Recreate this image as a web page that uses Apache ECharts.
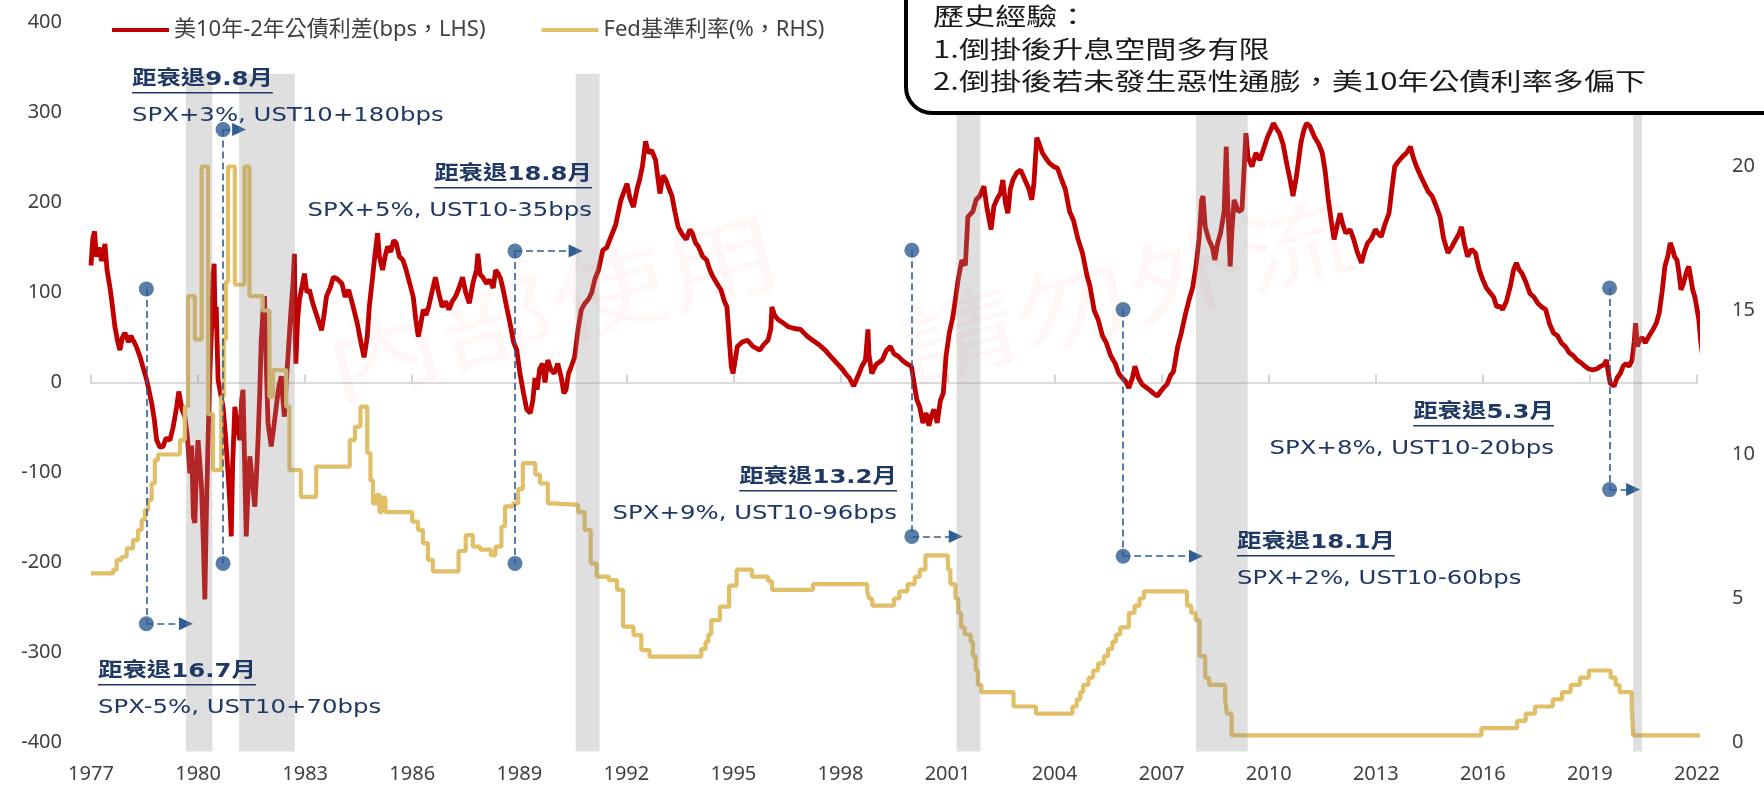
<!DOCTYPE html>
<html lang="zh-Hant">
<head>
<meta charset="utf-8">
<title>美10年-2年公債利差 vs Fed基準利率</title>
<script src="https://cdn.jsdelivr.net/npm/echarts@6.0.0/dist/echarts.min.js"></script>
<style>
    html, body { margin: 0; padding: 0; background: #fff; }
    #chart { width: 1764px; height: 786px; }
</style>
</head>
<body>
<div id="chart"></div>
<script>
    // 美10年-2年公債利差 (bps), [年, 值]
    var spread = [
        [1977.00,130],[1977.05,160],[1977.10,168],[1977.15,140],[1977.22,150],[1977.30,135],[1977.39,154],[1977.45,125],
        [1977.53,106],[1977.60,85],[1977.67,62],[1977.75,45],[1977.81,36],[1977.88,50],[1977.95,55],
        [1978.05,45],[1978.12,52],[1978.18,47],[1978.27,40],[1978.37,29],[1978.45,18],[1978.56,3],[1978.63,-10],
        [1978.70,-23],[1978.77,-40],[1978.84,-64],[1978.93,-72],
        [1979.02,-71],[1979.10,-62],[1979.21,-64],[1979.30,-50],[1979.40,-27],[1979.46,-10],[1979.49,-8],[1979.55,-30],
        [1979.63,-38],[1979.70,-60],[1979.77,-101],[1979.82,-70],[1979.87,-150],[1979.91,-156],[1979.95,-100],
        [1980.00,-64],[1980.05,-90],[1980.10,-119],[1980.15,-180],[1980.19,-241],[1980.23,-150],[1980.28,-64],[1980.33,10],
        [1980.38,60],[1980.42,121],[1980.45,132],[1980.48,60],[1980.51,84],[1980.56,3],[1980.62,-10],[1980.70,-27],
        [1980.77,-60],[1980.84,-101],[1980.90,-140],[1980.93,-171],[1980.97,-90],
        [1981.03,-27],[1981.10,-50],[1981.17,-64],[1981.22,-20],[1981.26,-8],[1981.31,-100],[1981.35,-171],[1981.40,-120],
        [1981.45,-82],[1981.52,-110],[1981.59,-138],[1981.64,-100],[1981.68,-64],[1981.73,-10],[1981.77,47],[1981.82,80],
        [1981.86,96],[1981.91,20],[1981.96,-45],
        [1982.01,-60],[1982.05,-71],[1982.12,-50],[1982.19,-27],[1982.26,-5],[1982.33,7],[1982.38,-20],[1982.42,-38],
        [1982.47,0],[1982.52,29],[1982.57,60],[1982.61,84],[1982.66,110],[1982.70,143],[1982.72,60],[1982.74,21],
        [1982.79,70],[1982.84,92],[1982.93,110],[1982.98,121],
        [1983.05,100],[1983.12,103],[1983.20,90],[1983.27,81],[1983.36,70],[1983.46,58],[1983.53,75],[1983.60,96],
        [1983.70,105],[1983.79,117],[1983.90,115],
        [1984.03,110],[1984.12,95],[1984.22,103],[1984.34,85],[1984.46,66],[1984.56,45],[1984.65,28],[1984.70,40],
        [1984.74,51],[1984.80,85],[1984.89,117],[1984.95,140],
        [1985.03,166],[1985.08,140],[1985.17,125],[1985.24,140],[1985.31,151],[1985.40,145],[1985.48,158],[1985.55,155],
        [1985.64,140],[1985.74,136],[1985.83,125],[1985.93,110],
        [1986.03,95],[1986.10,70],[1986.17,51],[1986.24,65],[1986.31,81],[1986.39,75],[1986.46,84],[1986.55,100],
        [1986.65,117],[1986.74,100],[1986.84,84],[1986.94,90],
        [1987.03,81],[1987.12,90],[1987.22,96],[1987.31,105],[1987.41,117],[1987.50,100],[1987.60,88],[1987.70,110],
        [1987.80,125],[1987.84,143],[1987.90,120],[1987.98,117],
        [1988.08,110],[1988.17,114],[1988.27,105],[1988.34,125],[1988.41,121],[1988.48,115],[1988.55,103],[1988.64,85],
        [1988.74,66],[1988.84,45],[1988.93,36],
        [1989.02,10],[1989.12,-12],[1989.21,-30],[1989.31,-34],[1989.38,-20],[1989.44,5],[1989.50,-8],[1989.57,15],
        [1989.65,21],[1989.72,0],[1989.80,25],[1989.89,14],[1989.98,10],
        [1990.08,21],[1990.18,5],[1990.25,-12],[1990.31,-8],[1990.38,10],[1990.46,18],[1990.55,28],[1990.65,60],
        [1990.74,81],[1990.84,88],[1990.93,92],
        [1991.03,100],[1991.12,115],[1991.22,125],[1991.34,147],[1991.45,150],[1991.57,162],[1991.70,175],[1991.85,203],
        [1992.02,221],[1992.10,205],[1992.20,195],[1992.30,215],[1992.37,225],[1992.45,240],[1992.54,268],[1992.62,255],
        [1992.71,258],[1992.82,247],[1992.94,210],
        [1993.03,230],[1993.11,225],[1993.20,215],[1993.28,207],[1993.36,190],[1993.45,173],[1993.56,165],[1993.68,159],
        [1993.78,170],[1993.85,166],[1993.94,155],
        [1994.02,151],[1994.14,140],[1994.25,136],[1994.34,125],[1994.42,118],[1994.54,110],[1994.65,103],[1994.75,90],
        [1994.82,84],[1994.88,50],[1994.94,18],[1994.99,10],
        [1995.05,25],[1995.11,40],[1995.25,45],[1995.39,47],[1995.55,40],[1995.74,36],[1995.85,42],[1995.97,47],
        [1996.05,60],[1996.08,84],[1996.15,75],[1996.25,70],[1996.40,66],[1996.54,62],[1996.70,60],[1996.88,59],
        [1997.05,52],[1997.22,47],[1997.40,42],[1997.57,36],[1997.75,28],[1997.91,21],
        [1998.05,15],[1998.14,10],[1998.25,5],[1998.37,-4],[1998.50,8],[1998.60,18],[1998.70,25],[1998.77,59],
        [1998.80,30],[1998.88,10],
        [1999.00,20],[1999.17,25],[1999.28,35],[1999.40,40],[1999.50,32],[1999.62,29],[1999.75,24],[1999.85,21],[1999.99,18],
        [2000.08,-5],[2000.14,-19],[2000.22,-27],[2000.31,-45],[2000.40,-34],[2000.48,-48],[2000.54,-38],[2000.62,-30],
        [2000.71,-45],[2000.80,-20],[2000.88,-12],[2000.96,30],
        [2001.05,55],[2001.15,73],[2001.22,92],[2001.30,115],[2001.40,136],[2001.50,130],[2001.57,184],[2001.71,190],
        [2001.80,203],[2001.90,207],
        [2002.02,218],[2002.10,195],[2002.22,170],[2002.30,196],[2002.40,205],[2002.48,210],[2002.55,225],[2002.62,200],
        [2002.69,188],[2002.76,215],[2002.83,225],[2002.94,233],
        [2003.05,236],[2003.17,225],[2003.28,215],[2003.36,203],[2003.42,221],[2003.50,272],[2003.57,265],[2003.66,255],
        [2003.74,250],[2003.85,244],[2003.97,240],
        [2004.08,238],[2004.20,225],[2004.30,215],[2004.42,190],[2004.53,180],[2004.65,160],[2004.78,144],[2004.90,120],
        [2004.99,107],
        [2005.11,80],[2005.22,70],[2005.34,52],[2005.45,44],[2005.57,30],[2005.70,21],[2005.80,10],[2005.90,5],[2005.98,2],
        [2006.08,-6],[2006.18,5],[2006.25,18],[2006.35,5],[2006.45,-2],[2006.55,-5],[2006.65,-8],[2006.77,-12],
        [2006.88,-15],[2006.97,-10],
        [2007.05,-6],[2007.15,-2],[2007.25,8],[2007.33,12],[2007.45,40],[2007.55,55],[2007.66,75],[2007.77,92],
        [2007.87,106],[2007.96,129],
        [2008.05,160],[2008.12,203],[2008.16,207],[2008.22,173],[2008.32,159],[2008.42,150],[2008.49,136],[2008.57,155],
        [2008.65,166],[2008.75,190],[2008.81,262],[2008.85,200],[2008.92,129],[2008.97,170],
        [2009.03,203],[2009.15,190],[2009.25,192],[2009.30,230],[2009.36,277],[2009.42,250],[2009.53,240],[2009.64,255],
        [2009.75,247],[2009.86,260],[2009.97,273],
        [2010.05,280],[2010.13,288],[2010.22,282],[2010.30,277],[2010.40,265],[2010.52,240],[2010.60,225],[2010.68,207],
        [2010.78,230],[2010.90,266],[2010.98,280],
        [2011.06,288],[2011.15,285],[2011.28,273],[2011.40,265],[2011.50,255],[2011.58,235],[2011.67,203],[2011.75,180],
        [2011.83,159],[2011.92,175],
        [2012.00,188],[2012.08,175],[2012.16,166],[2012.28,170],[2012.38,159],[2012.48,145],[2012.60,133],[2012.68,145],
        [2012.77,155],[2012.88,160],[2012.99,170],
        [2013.08,165],[2013.15,162],[2013.25,175],[2013.37,188],[2013.45,215],[2013.53,240],[2013.62,245],[2013.75,251],
        [2013.86,255],[2013.97,262],
        [2014.05,250],[2014.14,240],[2014.25,230],[2014.36,221],[2014.47,212],[2014.58,207],[2014.70,195],[2014.80,184],
        [2014.90,160],
        [2015.02,144],[2015.12,150],[2015.24,159],[2015.33,165],[2015.40,173],[2015.48,155],[2015.57,140],[2015.68,148],
        [2015.79,144],[2015.90,125],
        [2016.00,114],[2016.10,105],[2016.22,99],[2016.30,95],[2016.39,84],[2016.48,85],[2016.55,81],[2016.66,90],
        [2016.77,107],[2016.86,125],[2016.94,133],
        [2017.02,125],[2017.10,121],[2017.20,112],[2017.32,99],[2017.43,95],[2017.54,88],[2017.65,84],[2017.76,81],
        [2017.87,65],[2017.98,55],
        [2018.09,52],[2018.20,44],[2018.31,40],[2018.42,33],[2018.53,30],[2018.64,25],[2018.75,22],[2018.86,18],[2018.97,15],
        [2019.08,14],[2019.19,15],[2019.30,18],[2019.40,20],[2019.46,25],[2019.52,10],[2019.57,-1],[2019.62,0],
        [2019.68,-4],[2019.76,5],[2019.85,10],[2019.93,18],
        [2020.01,21],[2020.10,18],[2020.18,25],[2020.24,45],[2020.28,66],[2020.33,40],[2020.39,47],[2020.47,50],
        [2020.55,44],[2020.66,52],[2020.77,59],[2020.86,66],[2020.94,77],
        [2021.02,100],[2021.10,129],[2021.18,140],[2021.25,155],[2021.30,150],[2021.37,140],[2021.44,136],[2021.50,120],
        [2021.55,103],[2021.62,110],[2021.70,122],[2021.77,129],[2021.83,115],[2021.88,103],[2021.94,95],[2021.99,84],
        [2022.05,70],[2022.10,47],[2022.14,35],[2022.17,25],[2022.21,12],[2022.24,-1]
    ];

    // Fed基準利率 (%), 每次調整的 [年, 利率]
    var fedRate = [
        [1977.00,5.87],[1977.62,6.0],[1977.72,6.34],[1977.86,6.45],[1978.00,6.74],[1978.18,7.03],[1978.32,7.38],
        [1978.42,7.73],[1978.51,8.07],[1978.60,8.42],[1978.70,9.0],[1978.79,9.81],[1978.88,10.0],[1979.49,10.5],
        [1979.63,11.66],[1979.72,15.5],[1979.91,14.0],[1980.10,20.0],[1980.28,11.4],[1980.42,9.46],[1980.65,12.0],
        [1980.72,14.0],[1980.78,16.0],[1980.84,20.0],[1981.03,15.9],[1981.30,20.0],[1981.44,15.5],[1981.81,15.0],
        [1982.00,12.0],[1982.10,12.93],[1982.47,11.66],[1982.56,9.46],[1982.88,8.53],[1983.31,9.58],[1984.25,10.5],
        [1984.40,10.97],[1984.55,11.66],[1984.74,10.05],[1984.83,9.1],[1984.90,8.3],[1985.00,8.6],[1985.08,8.0],
        [1985.15,8.5],[1985.25,8.0],[1986.00,7.67],[1986.16,7.38],[1986.30,6.92],[1986.44,6.34],[1986.58,5.94],
        [1987.30,6.65],[1987.50,7.2],[1987.70,6.8],[1987.90,6.7],[1988.20,6.5],[1988.33,6.8],[1988.50,7.5],
        [1988.60,8.2],[1988.83,8.3],[1988.97,8.8],[1989.10,9.7],[1989.45,9.3],[1989.58,9.0],[1989.80,8.3],
        [1989.94,8.25],[1990.65,8.0],[1990.83,7.38],[1991.00,6.22],[1991.17,5.76],[1991.51,5.64],[1991.74,5.3],
        [1991.91,4.02],[1992.20,3.73],[1992.42,3.21],[1992.65,2.98],[1994.10,3.25],[1994.22,3.5],[1994.30,3.75],
        [1994.38,4.25],[1994.62,4.72],[1994.88,5.45],[1995.09,6.0],[1995.52,5.76],[1995.97,5.6],[1996.08,5.3],
        [1997.23,5.5],[1998.75,5.25],[1998.80,5.0],[1998.89,4.75],[1999.50,5.0],[1999.65,5.25],[1999.88,5.5],
        [2000.08,5.75],[2000.22,6.0],[2000.38,6.5],[2001.01,6.0],[2001.08,5.5],[2001.22,5.0],[2001.30,4.5],
        [2001.38,4.0],[2001.48,3.75],[2001.65,3.5],[2001.71,3.0],[2001.79,2.5],[2001.85,2.0],[2001.95,1.75],
        [2002.85,1.25],[2003.48,1.0],[2004.50,1.25],[2004.62,1.5],[2004.72,1.75],[2004.80,2.0],[2004.95,2.25],
        [2005.08,2.5],[2005.22,2.75],[2005.38,3.0],[2005.50,3.25],[2005.62,3.5],[2005.72,3.75],[2005.84,4.0],
        [2006.08,4.5],[2006.24,4.75],[2006.38,5.0],[2006.50,5.25],[2007.71,4.75],[2007.83,4.5],[2007.95,4.25],
        [2008.06,3.0],[2008.22,2.25],[2008.33,2.0],[2008.78,1.5],[2008.83,1.0],[2008.96,0.25],[2015.96,0.5],
        [2016.96,0.75],[2017.20,1.0],[2017.46,1.25],[2017.96,1.5],[2018.22,1.75],[2018.46,2.0],[2018.72,2.25],
        [2018.97,2.5],[2019.58,2.25],[2019.72,2.0],[2019.83,1.75],[2020.17,1.25],[2020.21,0.25],[2022.21,0.5],
        [2022.25,0.5]
    ];

    // 衰退期間 (灰色區塊)
    var recessionStart = [1979.66, 1981.15, 1990.58, 2001.25, 2007.96, 2020.21];
    var recessionEnd = [1980.40, 1982.71, 1991.25, 2001.92, 2009.41, 2020.46];

    // 倒掛訊號: 年份, 上下兩點 (bps), 箭頭指到哪
    var signalYear = [1978.55, 1980.70, 1988.88, 2000.00, 2005.92, 2019.55];
    var signalHigh = [104, 281, 146, 147, 81, 105];
    var signalLow = [-268, -201, -201, -171, -193, -119];
    var arrowOnTop = [false, true, true, false, false, false];
    var arrowTo = [1979.66, 1981.15, 1990.58, 2001.23, 2007.96, 2020.21];
    var signalTitle = ['距衰退16.7月', '距衰退9.8月', '距衰退18.8月', '距衰退13.2月', '距衰退18.1月', '距衰退5.3月'];
    var signalNote = ['SPX-5%, UST10+70bps', 'SPX+3%, UST10+180bps', 'SPX+5%, UST10-35bps',
        'SPX+9%, UST10-96bps', 'SPX+2%, UST10-60bps', 'SPX+8%, UST10-20bps'];

    var boxLines = ['歷史經驗：', '1.倒掛後升息空間多有限', '2.倒掛後若未發生惡性通膨，美10年公債利率多偏下'];

    var RED = '#c00000', GOLD = '#e1bf69', NAVY = '#1f3864', DOT = '#2e5d93';
    var AXIS_FONT = '"Noto Sans", "Noto Sans CJK TC", sans-serif';
    var TITLE_FONT = 'bold 20px "DejaVu Sans", "Noto Sans CJK TC"';
    var NOTE_FONT = '20px "DejaVu Sans", "Noto Sans CJK TC"';
    var BOX_FONT = '24px "Noto Sans CJK TC"';

    var ctx = document.createElement('canvas').getContext('2d');
    function textWidth(str, font) {
        ctx.font = font;
        return ctx.measureText(str).width;
    }

    // 文字位置 [x, y, 對齊]
    var noteLayout = [
        [98, 672, 'left'],
        [132, 80, 'left'],
        [592, 175, 'right'],
        [897, 478, 'right'],
        [1237, 543, 'left'],
        [1554, 413, 'right']
    ];

    var graphics = [];

    // 浮水印
    graphics.push({
        type: 'text', x: 552, y: 307, rotation: 15 * Math.PI / 180, scaleX: 1.3, z: 1, silent: true,
        style: { text: '內部使用', font: '90px "Noto Sans CJK TC"', fill: 'rgba(255,0,0,0.035)',
            textAlign: 'center', textVerticalAlign: 'middle', align: 'center', verticalAlign: 'middle' }
    });
    graphics.push({
        type: 'text', x: 1128, y: 290, rotation: 15 * Math.PI / 180, scaleX: 1.3, z: 1, silent: true,
        style: { text: '請勿外流', font: '90px "Noto Sans CJK TC"', fill: 'rgba(255,0,0,0.035)',
            textAlign: 'center', textVerticalAlign: 'middle', align: 'center', verticalAlign: 'middle' }
    });

    signalTitle.forEach(function (t, i) {
        var L = noteLayout[i];
        var w = textWidth(t, TITLE_FONT);
        graphics.push({
            type: 'group', x: L[0], y: L[1], scaleX: 1.22, z: 100,
            children: [
                { type: 'text', z: 100, style: { text: t, font: TITLE_FONT, fill: NAVY,
                    textAlign: L[2], textVerticalAlign: 'middle', align: L[2], verticalAlign: 'middle' } },
                { type: 'rect', z: 100, shape: { x: L[2] === 'right' ? -w : 0, y: 12, width: w, height: 1.6 },
                    style: { fill: NAVY } },
                { type: 'text', z: 100, y: 36, style: { text: signalNote[i], font: NOTE_FONT, fill: NAVY,
                    textAlign: L[2], textVerticalAlign: 'middle', align: L[2], verticalAlign: 'middle' } }
            ]
        });
    });

    // 右上角說明框
    var boxScale = 713 / textWidth(boxLines[2], BOX_FONT);
    graphics.push({
        type: 'rect', z: 100,
        shape: { x: 906, y: -30, width: 900, height: 143, r: [0, 0, 0, 26] },
        style: { fill: '#fff', stroke: '#000', lineWidth: 4 }
    });
    boxLines.forEach(function (t, i) {
        graphics.push({
            type: 'text', x: 933, y: [16, 49, 81][i], scaleX: boxScale, z: 101,
            style: { text: t, font: BOX_FONT, fill: '#1a1a1a',
                textAlign: 'left', textVerticalAlign: 'middle', align: 'left', verticalAlign: 'middle' }
        });
    });

    // 訊號點與虛線
    var dots = [], guides = [];
    signalYear.forEach(function (yr, i) {
        dots.push([yr, signalHigh[i]], [yr, signalLow[i]]);
        guides.push([{ coord: [yr, signalHigh[i]] }, { coord: [yr, signalLow[i]] }]);
        var yv = arrowOnTop[i] ? signalHigh[i] : signalLow[i];
        guides.push([{ coord: [yr, yv] }, { coord: [arrowTo[i], yv], symbol: 'triangle', symbolSize: [13, 14] }]);
    });

    var bands = recessionStart.map(function (s, i) { return [s, recessionEnd[i]]; });
    var BAND_TOP = 343, BAND_BOTTOM = -410;

    var chart = echarts.init(document.getElementById('chart'));
    var option = {
        animation: false,
        backgroundColor: '#fff',
        grid: { left: 91, right: 67, top: 22.5, bottom: 43.5 },
        legend: {
            left: 112, top: 19, padding: 0, itemWidth: 57, itemHeight: 4, itemGap: 56, icon: 'rect',
            textStyle: { fontSize: 22, color: '#404040', fontFamily: AXIS_FONT },
            data: ['美10年-2年公債利差(bps，LHS)', 'Fed基準利率(%，RHS)']
        },
        xAxis: [{
            type: 'value', min: 1977, max: 2022, interval: 3,
            axisLine: { show: false, onZero: false }, axisTick: { show: false }, splitLine: { show: false },
            axisLabel: { color: '#404040', fontSize: 20, fontFamily: AXIS_FONT, margin: 22,
                formatter: function (v) { return String(v); } }
        }, {
            type: 'value', min: 1977, max: 2022, interval: 3,
            axisLine: { show: true, onZero: true, onZeroAxisIndex: 0, lineStyle: { color: '#d0d0d0', width: 1.5 } },
            axisTick: { show: true, length: 8, lineStyle: { color: '#c8c8c8', width: 1.5 } },
            axisLabel: { show: false }, splitLine: { show: false }
        }],
        yAxis: [{
            type: 'value', min: -400, max: 400, interval: 100,
            axisLine: { show: false }, axisTick: { show: false }, splitLine: { show: false },
            axisLabel: { color: '#404040', fontSize: 20, fontFamily: AXIS_FONT, margin: 29 }
        }, {
            type: 'value', position: 'right', min: 0, max: 25, interval: 5,
            axisLine: { show: false }, axisTick: { show: false }, splitLine: { show: false },
            axisLabel: { color: '#404040', fontSize: 20, fontFamily: AXIS_FONT, margin: 35 }
        }],
        graphic: graphics,
        series: [{
            name: '美10年-2年公債利差(bps，LHS)',
            type: 'line', xAxisIndex: 0, yAxisIndex: 0,
            data: spread, showSymbol: false, clip: false, z: 2,
            lineStyle: { color: RED, width: 4.8 }, itemStyle: { color: RED }
        }, {
            name: 'Fed基準利率(%，RHS)',
            type: 'line', xAxisIndex: 0, yAxisIndex: 1, step: 'end',
            data: fedRate, showSymbol: false, clip: false, z: 3,
            lineStyle: { color: GOLD, width: 4.2 }, itemStyle: { color: GOLD }
        }, {
            name: 'recession', type: 'custom', xAxisIndex: 0, yAxisIndex: 0,
            data: bands, encode: { x: [0, 1] }, clip: false, z: 5, silent: true,
            renderItem: function (params, api) {
                var p0 = api.coord([api.value(0), BAND_TOP]);
                var p1 = api.coord([api.value(1), BAND_BOTTOM]);
                return {
                    type: 'rect',
                    shape: { x: p0[0], y: p0[1], width: p1[0] - p0[0], height: p1[1] - p0[1] },
                    style: { fill: 'rgba(140,140,140,0.28)' }
                };
            }
        }, {
            name: 'signal', type: 'scatter', xAxisIndex: 0, yAxisIndex: 0,
            data: dots, symbolSize: 15, clip: false, z: 6, silent: true,
            itemStyle: { color: DOT },
            markLine: {
                silent: true, symbol: ['none', 'none'], label: { show: false },
                lineStyle: { color: DOT, width: 1.6, type: [7, 4] },
                emphasis: { disabled: true },
                data: guides
            }
        }]
    };
    chart.setOption(option);
</script>
</body>
</html>
